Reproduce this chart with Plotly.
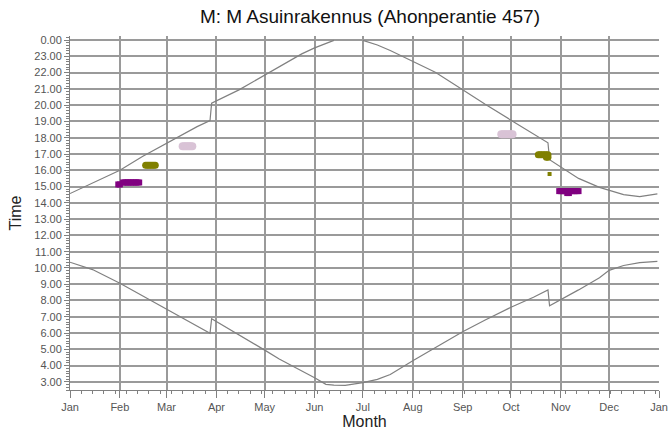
import plotly.graph_objects as go

# Daily sunrise / sunset curve, sampled at key dates (local clock time, hours)
dates = ["2020-01-01", "2020-01-15", "2020-02-01", "2020-02-15", "2020-03-01",
         "2020-03-10", "2020-03-20", "2020-03-28", "2020-03-29", "2020-04-15",
         "2020-05-01", "2020-05-10", "2020-05-24", "2020-06-01", "2020-06-08",
         "2020-06-13", "2020-06-20", "2020-07-01", "2020-07-10", "2020-07-18",
         "2020-08-01", "2020-08-15", "2020-09-01", "2020-09-15", "2020-10-01",
         "2020-10-15", "2020-10-24", "2020-10-25", "2020-11-01", "2020-11-12",
         "2020-11-25", "2020-12-01", "2020-12-10", "2020-12-20", "2020-12-31"]

sunset = [14.57, 15.20, 16.00, 16.85, 17.67,
          18.16, 18.68, 19.05, 20.12, 20.94,
          21.85, 22.40, 23.15, 23.52, 23.80,
          23.98, None, 23.98, 23.70, 23.36,
          22.70, 22.02, 20.95, 20.05, 19.08,
          18.25, 17.69, 16.65, 16.20, 15.50,
          14.95, 14.78, 14.50, 14.38, 14.55]

sunrise = [10.35, 9.90, 9.06, 8.30, 7.48,
           6.96, 6.42, 5.98, 6.88, 5.90,
           4.95, 4.40, 3.70, 3.25, 2.85,
           2.80, 2.78, 2.95, 3.15, 3.45,
           4.30, 5.10, 6.08, 6.80, 7.58,
           8.20, 8.65, 7.68, 8.05, 8.65,
           9.40, 9.85, 10.15, 10.33, 10.40]

# Event observations
purple_dates = ["2020-01-31", "2020-02-01", "2020-02-03", "2020-02-04", "2020-02-05",
                "2020-02-06", "2020-02-07", "2020-02-08", "2020-02-09", "2020-02-10",
                "2020-02-11", "2020-02-12", "2020-02-13",
                "2020-10-31", "2020-11-01", "2020-11-02", "2020-11-03", "2020-11-04",
                "2020-11-05", "2020-11-06", "2020-11-07", "2020-11-08", "2020-11-09",
                "2020-11-10", "2020-11-11", "2020-11-12", "2020-11-05", "2020-11-06"]
purple_times = [15.13, 15.13, 15.25, 15.25, 15.25,
                15.25, 15.25, 15.25, 15.25, 15.25,
                15.25, 15.25, 15.25,
                14.72, 14.72, 14.72, 14.72, 14.72,
                14.72, 14.72, 14.72, 14.72, 14.72,
                14.72, 14.72, 14.72, 14.60, 14.60]

olive_dates = ["2020-02-17", "2020-02-18", "2020-02-19", "2020-02-20", "2020-02-21",
               "2020-02-22", "2020-02-23",
               "2020-10-18", "2020-10-19", "2020-10-20", "2020-10-21", "2020-10-22",
               "2020-10-23", "2020-10-24", "2020-10-23", "2020-10-24"]
olive_times = [16.31, 16.31, 16.31, 16.31, 16.31,
               16.31, 16.31,
               16.96, 16.96, 16.96, 16.96, 16.96,
               16.96, 16.96, 16.80, 16.80]

olive_single_dates = ["2020-10-25"]
olive_single_times = [15.77]

pink_dates = ["2020-03-11", "2020-03-12", "2020-03-13", "2020-03-14", "2020-03-15",
              "2020-03-16", "2020-03-17",
              "2020-09-25", "2020-09-26", "2020-09-27", "2020-09-28", "2020-09-29",
              "2020-09-30", "2020-10-01", "2020-10-02"]
pink_times = [17.48, 17.48, 17.48, 17.48, 17.48,
              17.48, 17.48,
              18.22, 18.22, 18.22, 18.22, 18.22,
              18.22, 18.22, 18.22]

month_ticks = ["2020-01-01", "2020-02-01", "2020-03-01", "2020-04-01", "2020-05-01",
               "2020-06-01", "2020-07-01", "2020-08-01", "2020-09-01", "2020-10-01",
               "2020-11-01", "2020-12-01", "2021-01-01"]
month_labels = ["Jan", "Feb", "Mar", "Apr", "May", "Jun", "Jul",
                "Aug", "Sep", "Oct", "Nov", "Dec", "Jan"]

hour_ticks = [3, 4, 5, 6, 7, 8, 9, 10, 11, 12, 13, 14, 15, 16, 17, 18, 19, 20, 21, 22, 23, 24]
hour_labels = ["3.00", "4.00", "5.00", "6.00", "7.00", "8.00", "9.00", "10.00",
               "11.00", "12.00", "13.00", "14.00", "15.00", "16.00", "17.00",
               "18.00", "19.00", "20.00", "21.00", "22.00", "23.00", "0.00"]

CURVE = "#808080"
GRID = "#9a9a9a"
TICKFONT = dict(family="Arial", size=11, color="#555555")

fig = go.Figure()

fig.add_trace(go.Scatter(x=dates, y=sunset, mode="lines",
                         line=dict(color=CURVE, width=1.2), connectgaps=False,
                         showlegend=False, hoverinfo="skip"))
fig.add_trace(go.Scatter(x=dates, y=sunrise, mode="lines",
                         line=dict(color=CURVE, width=1.2),
                         showlegend=False, hoverinfo="skip"))

fig.add_trace(go.Scatter(x=pink_dates, y=pink_times, mode="markers",
                         marker=dict(color="#D9C3D6", size=8, symbol="circle", line=dict(width=0)),
                         showlegend=False))
fig.add_trace(go.Scatter(x=olive_dates, y=olive_times, mode="markers",
                         marker=dict(color="#808000", size=7, symbol="circle", line=dict(width=0)),
                         showlegend=False))
fig.add_trace(go.Scatter(x=olive_single_dates, y=olive_single_times, mode="markers",
                         marker=dict(color="#808000", size=4, symbol="square", line=dict(width=0)),
                         showlegend=False))
fig.add_trace(go.Scatter(x=purple_dates, y=purple_times, mode="markers",
                         marker=dict(color="#800080", size=6, symbol="square", line=dict(width=0)),
                         showlegend=False))

fig.update_layout(
    width=669, height=430,
    margin=dict(l=70, r=10, t=36, b=40, autoexpand=False),
    paper_bgcolor="white", plot_bgcolor="white",
    title=dict(text="M: M Asuinrakennus (Ahonperantie 457)",
               font=dict(family="Arial", size=19, color="#111111"),
               x=0.553, xanchor="center", y=0.962, yanchor="middle"),
    font=dict(family="Arial"),
)

fig.update_xaxes(
    type="date", range=["2020-01-01", "2021-01-01"],
    tickmode="array", tickvals=month_ticks, ticktext=month_labels,
    tickfont=TICKFONT, ticks="outside", ticklen=7, tickcolor=CURVE, tickwidth=1,
    showgrid=True, gridcolor=GRID, gridwidth=1.5,
    showline=True, linecolor=CURVE, linewidth=1,
    zeroline=False, automargin=False,
    minor=dict(tickmode="linear", tick0="2020-01-01", dtick=7 * 86400000,
               ticks="outside", ticklen=3, tickcolor=CURVE, showgrid=False),
    title=dict(text="Month", font=dict(family="Arial", size=16, color="#222222"), standoff=2),
)

fig.update_yaxes(
    range=[2.5, 24.25],
    tickmode="array", tickvals=hour_ticks, ticktext=hour_labels,
    tickfont=TICKFONT, ticks="outside", ticklen=5, tickcolor=CURVE, tickwidth=1,
    showgrid=True, gridcolor=GRID, gridwidth=1.5,
    showline=True, linecolor=CURVE, linewidth=1,
    zeroline=False, automargin=False,
    minor=dict(tickmode="linear", tick0=0, dtick=1 / 6,
               ticks="outside", ticklen=3, tickcolor=CURVE, showgrid=False),
    title=dict(text="Time", font=dict(family="Arial", size=16, color="#222222"), standoff=8),
)

fig.write_html("out.html")
